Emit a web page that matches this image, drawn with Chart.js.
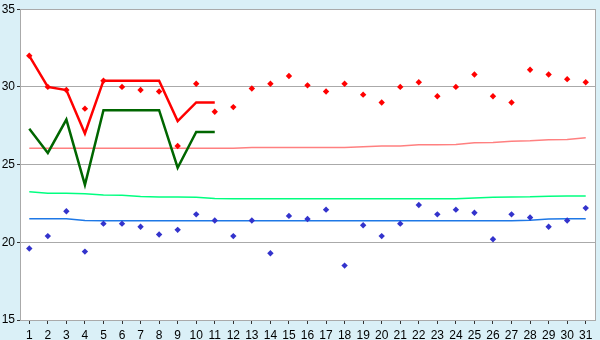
<!DOCTYPE html>
<html>
<head>
<meta charset="utf-8">
<script src="https://cdn.jsdelivr.net/npm/chart.js@4/dist/chart.umd.min.js"></script>
<style>
  body { margin: 0; background: #daf0f7; }
  #wrap { width: 600px; height: 340px; }
</style>
</head>
<body>
<div id="wrap"><canvas id="chart" width="600" height="340"></canvas></div>
<script>
// days of the month
const days = Array.from({ length: 31 }, (_, i) => String(i + 1));
const yTicks = [15, 20, 25, 30, 35];

// daily readings (diamonds)
const redPoints = [32.0, 30.0, 29.8, 28.6, 30.4, 30.0, 29.8, 29.7, 26.2, 30.2,
    28.4, 28.7, 29.9, 30.2, 30.7, 30.1, 29.7, 30.2, 29.5, 29.0,
    30.0, 30.3, 29.4, 30.0, 30.8, 29.4, 29.0, 31.1, 30.8, 30.5, 30.3];
const bluePoints = [19.6, 20.4, 22.0, 19.4, 21.2, 21.2, 21.0, 20.5, 20.8, 21.8,
    21.4, 20.4, 21.4, 19.3, 21.7, 21.5, 22.1, 18.5, 21.1, 20.4,
    21.2, 22.4, 21.8, 22.1, 21.9, 20.2, 21.8, 21.6, 21.0, 21.4, 22.2];

// first 11 days, thick lines
const redLine = [32.0, 30.0, 29.8, 27.0, 30.4, 30.4, 30.4, 30.4, 27.8, 29.0, 29.0];
const greenLine = [27.3, 25.75, 27.9, 23.7, 28.5, 28.5, 28.5, 28.5, 24.8, 27.1, 27.1];

// long-term averages, thin lines
const pinkAvg = [26.05, 26.05, 26.05, 26.05, 26.05, 26.05, 26.05, 26.05, 26.05, 26.05,
    26.05, 26.05, 26.1, 26.1, 26.1, 26.1, 26.1, 26.1, 26.15, 26.2,
    26.2, 26.27, 26.28, 26.3, 26.4, 26.42, 26.5, 26.53, 26.6, 26.62, 26.72];
const greenAvg = [23.25, 23.15, 23.15, 23.12, 23.04, 23.02, 22.95, 22.92, 22.92, 22.9,
    22.82, 22.8, 22.8, 22.8, 22.8, 22.8, 22.8, 22.8, 22.8, 22.8,
    22.8, 22.8, 22.8, 22.8, 22.85, 22.9, 22.92, 22.93, 22.97, 22.98, 22.98];
const blueAvg = [21.52, 21.52, 21.52, 21.4, 21.39, 21.39, 21.39, 21.39, 21.39, 21.39,
    21.39, 21.39, 21.39, 21.39, 21.39, 21.39, 21.39, 21.39, 21.39, 21.39,
    21.39, 21.39, 21.39, 21.39, 21.39, 21.39, 21.39, 21.42, 21.5, 21.52, 21.52];

const AXIS = '#aaaaaa';
const FONT = { family: '"Liberation Sans", Arial, sans-serif', size: 12 };

const plotBg = {
    id: 'plotBg',
    beforeDraw(chart) {
        const { ctx, chartArea: a } = chart;
        ctx.save();
        ctx.fillStyle = '#daf0f7';
        ctx.fillRect(0, 0, chart.width, chart.height);
        ctx.fillStyle = '#ffffff';
        ctx.fillRect(a.left, a.top, a.right - a.left, a.bottom - a.top);
        ctx.restore();
    }
};

function lineSet(data, color, width, order) {
    return {
        data: data, borderColor: color, borderWidth: width,
        pointRadius: 0, tension: 0, fill: false, order: order
    };
}

function dotSet(data, color) {
    return {
        data: data, showLine: false, pointStyle: 'rectRot', pointRadius: 3.2,
        pointBackgroundColor: color, pointBorderColor: color, pointBorderWidth: 0,
        order: 0
    };
}

new Chart(document.getElementById('chart'), {
    type: 'line',
    data: {
        labels: days,
        datasets: [
            dotSet(redPoints, '#ff0000'),
            dotSet(bluePoints, '#3333cc'),
            lineSet(redLine, '#ff0000', 2.5, 1),
            lineSet(greenLine, '#006600', 2.5, 1),
            lineSet(pinkAvg, '#ff8080', 1.5, 2),
            lineSet(greenAvg, '#00ff80', 1.5, 2),
            lineSet(blueAvg, '#1e78e6', 1.5, 2)
        ]
    },
    options: {
        responsive: false,
        animation: false,
        layout: { autoPadding: false, padding: { top: 5, right: 4, left: 0, bottom: 0 } },
        plugins: { legend: { display: false }, tooltip: { enabled: false } },
        scales: {
            x: {
                offset: true,
                grid: { display: true, drawOnChartArea: false, offset: false, color: AXIS, tickColor: '#333', tickLength: 4 },
                border: { color: AXIS, width: 1 },
                ticks: { color: '#000', font: FONT, padding: 4, maxRotation: 0, autoSkip: false },
                afterFit(s) { s.height = 20; }
            },
            y: {
                min: 15, max: 35,
                afterBuildTicks(s) { s.ticks = yTicks.map(v => ({ value: v })); },
                grid: { color: AXIS, tickColor: '#333', tickLength: 3 },
                border: { color: AXIS, width: 1 },
                ticks: { color: '#000', font: FONT, padding: 2 },
                afterFit(s) { s.width = 20; }
            },
            y2: {
                position: 'right', min: 15, max: 35,
                grid: { drawOnChartArea: false, drawTicks: false },
                border: { color: AXIS, width: 1 },
                ticks: { display: false },
                afterFit(s) { s.width = 1; }
            }
        }
    },
    plugins: [plotBg]
});
</script>
</body>
</html>
